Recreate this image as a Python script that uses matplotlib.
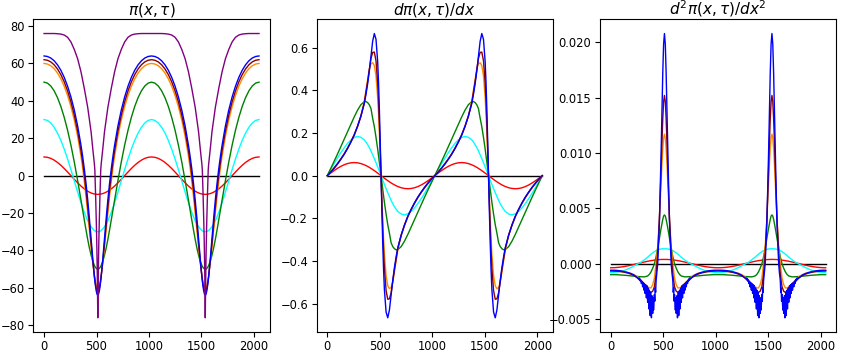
import numpy as np
import matplotlib
matplotlib.use("Agg")
import matplotlib.pyplot as plt

# ---------------- data (one half-period, 0..512) ----------------
x_half = [0, 32, 64, 96, 128, 160, 192, 224, 256, 288, 320, 352, 368, 384,
          400, 416, 432, 448, 464, 480, 488, 496, 504, 512]

# panel 1 : pi(x, tau)
pi_black = [0] * 24
pi_red = [10, 9.81, 9.24, 8.31, 7.07, 5.56, 3.83, 1.95, 0, -1.95, -3.83, -5.56,
          -6.34, -7.07, -7.73, -8.31, -8.82, -9.24, -9.57, -9.81, -9.89, -9.95, -9.99, -10]
pi_cyan = [30, 29.54, 28.17, 25.90, 22.78, 18.86, 14.22, 8.96, 3.25, -2.75, -8.77, -14.52,
           -17.21, -19.72, -22.02, -24.07, -25.84, -27.31, -28.47, -29.32, -29.61, -29.83, -29.96, -30]
pi_green = [50, 49.49, 47.96, 45.38, 41.74, 37.02, 31.21, 24.32, 16.34, 7.33, -2.58, -13.11,
            -18.50, -23.85, -29.08, -34.10, -38.63, -42.50, -45.68, -48.04, -48.89, -49.50, -49.86, -50]
pi_orange = [60, 59.69, 58.78, 57.20, 54.89, 51.80, 47.84, 42.92, 36.92, 29.70, 21.01, 10.31,
             3.94, -3.28, -11.34, -20.05, -29.0, -37.9, -46.26, -53.34, -56.13, -58.24, -59.55, -60]
pi_brown = [62, 61.71, 60.83, 59.30, 57.06, 54.05, 50.20, 45.37, 39.48, 32.35, 23.72, 13.22,
            7.02, -0.03, -7.97, -16.84, -26.42, -36.25, -45.76, -54.01, -57.34, -59.87, -61.46, -62]
pi_blue = [64, 63.73, 62.90, 61.44, 59.28, 56.36, 52.59, 47.87, 42.11, 35.10, 26.60, 16.22,
           10.20, 3.47, -4.17, -12.89, -22.77, -33.54, -44.39, -54.14, -58.18, -61.31, -63.29, -64]
x_purple = [0, 32, 64, 96, 128, 160, 192, 224, 256, 288, 320, 352, 384, 416, 448, 464,
            480, 484, 492, 498, 502, 506, 509, 511, 512]
pi_purple = [76, 76, 76, 76, 75.9, 75.7, 75.2, 74.0, 71.5, 67.5, 62.5, 55.5, 46.5, 36.5, 23.5,
             14.5, 6.0, 3.0, -12, -25, -35, -48, -60, -70, -76]

# panel 2 : d pi / dx
d1_black = [0] * 24
d1_red = [0, .012, .0235, .0341, .0434, .051, .0567, .0602, .0614, .0602, .0567, .051,
          .0475, .0434, .0389, .0341, .0289, .0235, .0178, .012, .009, .006, .003, 0]
d1_cyan = [0, .028, .055, .082, .107, .13, .151, .167, .179, .184, .18, .168,
           .158, .146, .132, .116, .098, .08, .061, .041, .031, .021, .0105, 0]
d1_green = [0, .033, .066, .1, .135, .17, .205, .24, .275, .307, .333, .347,
            .348, .343, .333, .315, .27, .23, .18, .125, .094, .063, .032, 0]
d1_orange = [0, .018, .036, .057, .079, .103, .13, .16, .193, .232, .28, .35,
             .40, .45, .50, .525, .53, .517, .468, .366, .292, .204, .105, 0]
d1_brown = [0, .017, .035, .055, .077, .1, .127, .157, .19, .23, .278, .34,
            .39, .44, .495, .55, .578, .58, .539, .433, .35, .247, .128, 0]
d1_blue = [0, .016, .034, .054, .076, .1, .127, .157, .19, .232, .28, .338,
           .38, .43, .49, .56, .63, .667, .64, .534, .439, .314, .164, 0]

# panel 3 : d2 pi / dx2
d2_black = [0] * 24
d2_red = [-.000377, -.00037, -.000348, -.000313, -.000267, -.00021, -.000144, -.0000735, 0,
          .0000735, .000144, .00021, .000239, .000267, .000291, .000313, .000333, .000348,
          .000361, .00037, .000373, .000375, .000377, .000377]
d2_cyan = [-.0008, -.00079, -.00076, -.0007, -.00062, -.0005, -.00036, -.0002, -.00004, .00012,
           .00034, .00058, .00072, .00085, .00097, .00108, .00117, .00124, .00129, .00132,
           .00133, .00134, .00134, .00134]
d2_green = [-.001, -.001, -.00101, -.00103, -.00105, -.00108, -.00111, -.00114, -.00117, -.00119,
            -.0012, -.00112, -.00098, -.00075, -.00042, -.00002, .0006, .0014, .0023, .0032,
            .0036, .004, .0043, .0044]
d2_orange = [-.00065, -.00065, -.00067, -.0007, -.00074, -.0008, -.00088, -.001, -.0012, -.0015,
             -.0018, -.0021, -.0022, -.0022, -.0019, -.0013, 0, .00157, .00405, .0073, .00896,
             .01038, .01135, .0117]
d2_brown = [-.00067, -.00068, -.0007, -.00073, -.00078, -.00085, -.00095, -.0011, -.0013, -.0016,
            -.0019, -.0023, -.0025, -.0026, -.0025, -.0021, -.001, .001, .00405, .0085, .01095,
            .01312, .01465, .0152]
x_blue_d2 = [0, 32, 64, 96, 128, 160, 192, 224, 256,
             264, 268, 272, 276, 280, 284, 288, 292, 296, 300, 304, 308, 312, 316, 320, 324,
             328, 332, 336, 340, 344, 348, 352, 356, 360, 364, 368, 372, 376, 380, 384, 388,
             392, 396, 400, 404, 408, 412, 416, 420, 424, 428, 432, 436, 440,
             448, 456, 464, 472, 480, 488, 496, 504, 512]
d2_blue = [-.0006, -.0006, -.00062, -.00066, -.00072, -.0008, -.0009, -.00105, -.0013,
           -.00135, -.0014, -.0013, -.0015, -.0014, -.0016, -.0015, -.0018, -.0016, -.0017,
           -.0021, -.0017, -.0019, -.0024, -.0018, -.0020, -.0027, -.0019, -.0022, -.0031,
           -.0020, -.0026, -.0035, -.0022, -.0029, -.0041, -.0024, -.0033, -.0047, -.0026,
           -.0038, -.0049, -.0029, -.0040, -.0045, -.0031, -.0042, -.0036, -.0028, -.0034,
           -.0022, -.0026, -.0016, -.0012, -.0009,
           0.0, .0018, .00373, .0068, .00998, .01373, .01727, .01985, .0208]

colors = ["black", "red", "cyan", "green", "darkorange", "darkred", "blue"]
titles = [r"$\pi(x,\tau)$", r"$d\pi(x,\tau)/dx$", r"$d^2\pi(x,\tau)/dx^2$"]


def periodic(xh, yh, sign):
    """Extend one half-period to 0..2048 using the symmetry seen in the picture."""
    xh = np.asarray(xh, float)
    yh = np.asarray(yh, float)
    x1 = np.concatenate([xh, 1024 - xh[::-1][1:]])
    y1 = np.concatenate([yh, sign * yh[::-1][1:]])
    return np.concatenate([x1, x1[1:] + 1024]), np.concatenate([y1, y1[1:]])


fig = plt.figure(figsize=(8.43, 3.53), dpi=100)
lefts = [0.0395, 0.3755, 0.7117]
axes = [fig.add_axes([l, 0.0595, 0.2805, 0.8858]) for l in lefts]

panel1 = [pi_black, pi_red, pi_cyan, pi_green, pi_orange, pi_brown, pi_blue]
panel2 = [d1_black, d1_red, d1_cyan, d1_green, d1_orange, d1_brown, d1_blue]
panel3 = [d2_black, d2_red, d2_cyan, d2_green, d2_orange, d2_brown]

lw = 1.0
ax = axes[0]
for y, c in zip(panel1, colors):
    ax.plot(*periodic(x_half, y, 1), color=c, lw=lw)
ax.plot(*periodic(x_purple, pi_purple, 1), color="purple", lw=lw)

ax = axes[1]
for y, c in zip(panel2, colors):
    ax.plot(*periodic(x_half, y, -1), color=c, lw=lw)

ax = axes[2]
for y, c in zip(panel3, colors[:6]):
    ax.plot(*periodic(x_half, y, 1), color=c, lw=lw)
ax.plot(*periodic(x_blue_d2, d2_blue, 1), color="blue", lw=lw)

for ax, t in zip(axes, titles):
    ax.set_title(t, fontsize=11, pad=3)
    ax.set_xticks([0, 500, 1000, 1500, 2000])
    ax.tick_params(labelsize=8.3)
    ax.tick_params(axis="x", pad=2.2)
    ax.tick_params(axis="y", pad=2.6)

fig.savefig("out.png", dpi=100)
